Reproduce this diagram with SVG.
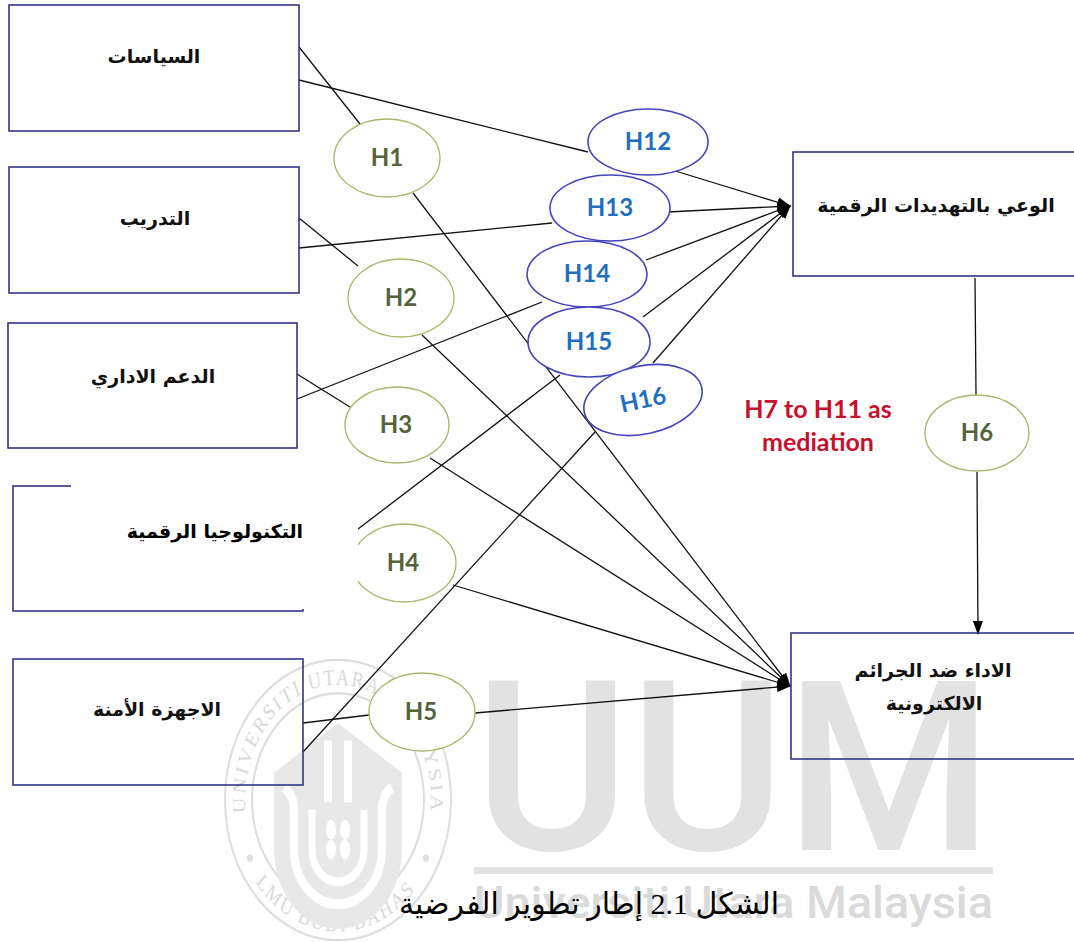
<svg xmlns="http://www.w3.org/2000/svg" width="1074" height="942" viewBox="0 0 1074 942">
<style>
  .box { fill: none; stroke: #34348a; stroke-width: 1.6; }
  .lbl { font-family: "DejaVu Sans", sans-serif; font-weight: bold; font-size: 19px; fill: #111; text-anchor: middle; }
  .hg { fill: #fff; stroke: #aab46a; stroke-width: 1.3; }
  .hb { fill: #fff; stroke: #4444bb; stroke-width: 1.6; }
  .tg { font-family: Lato, "Open Sans", sans-serif; font-weight: bold; font-size: 24px; fill: #56633a; text-anchor: middle; }
  .tb { font-family: Lato, "Open Sans", sans-serif; font-weight: bold; font-size: 24px; fill: #1f6fbf; text-anchor: middle; }
  .ln { stroke: #111; stroke-width: 1.3; fill: none; }
  .wm { fill: #e2e2e2; }
  .ring { fill: none; stroke: #dedede; stroke-width: 2; }
  .rt { font-family: "Liberation Serif", serif; font-size: 18px; fill: #d9d9d9; letter-spacing: 2px; }
</style>
<defs>
  <marker id="arr" markerWidth="14" markerHeight="10" refX="13" refY="5" orient="auto" markerUnits="userSpaceOnUse">
    <path d="M0,0 L14,5 L0,10 z" fill="#000"/>
  </marker>
  <path id="topArc" d="M -65.8,65.8 A 93,93 0 1 1 65.8,65.8"/>
  <path id="botArc" d="M -81.2,68.1 A 106,106 0 0 0 81.2,68.1"/>
</defs>
<rect width="1074" height="942" fill="#fff"/>

<!-- watermark -->
<g id="watermark">
  <g transform="translate(338,800) scale(1,1.24)">
    <circle class="ring" r="113"/>
    <circle class="ring" r="86" stroke-width="1.5"/>
    <text class="rt"><textPath href="#topArc" startOffset="50%" text-anchor="middle">UNIVERSITI UTARA MALAYSIA</textPath></text>
    <text class="rt"><textPath href="#botArc" startOffset="50%" text-anchor="middle">ILMU BUDI BAHASA</textPath></text>
    <circle cx="-88" cy="47" r="3" fill="#dedede"/>
    <circle cx="88" cy="47" r="3" fill="#dedede"/>
    <path d="M -64,-22 L 0,-62 L 64,-22 L 64,40 A 64,64 0 0 1 -64,40 Z" fill="#e8e8e8"/>
    <path d="M -54,-10 Q -44,-4 -44,8 L -44,40 A 44,44 0 0 0 44,40 L 44,8 Q 44,-4 54,-10" fill="none" stroke="#fff" stroke-width="8"/>
    <path d="M -26,8 L -26,40 A 26,26 0 0 0 26,40 L 26,8" fill="none" stroke="#fff" stroke-width="7"/>
    <rect x="-14" y="-48" width="8" height="50" fill="#fff"/>
    <rect x="6" y="-48" width="8" height="50" fill="#fff"/>
    <ellipse cx="-7" cy="24" rx="5" ry="8" fill="#fff"/>
    <ellipse cx="7" cy="24" rx="5" ry="8" fill="#fff"/>
    <ellipse cx="-7" cy="40" rx="5" ry="8" fill="#fff"/>
    <ellipse cx="7" cy="40" rx="5" ry="8" fill="#fff"/>
  </g>
  <text x="474" y="850" class="wm" font-family="Roboto, sans-serif" font-weight="500" font-size="238" textLength="519" lengthAdjust="spacingAndGlyphs">UUM</text>
  <rect x="474" y="867" width="519" height="7" class="wm"/>
  <text x="474" y="918" fill="#dadada" font-family="Roboto, sans-serif" font-weight="500" font-size="44" textLength="519" lengthAdjust="spacingAndGlyphs">Universiti Utara Malaysia</text>
</g>

<!-- connectors -->
<g id="connectors">
  <line class="ln" x1="299" y1="47" x2="360" y2="124"/>
  <line class="ln" x1="299" y1="80" x2="588" y2="152"/>
  <line class="ln" x1="299" y1="218" x2="358" y2="266"/>
  <line class="ln" x1="299" y1="248" x2="552" y2="223"/>
  <line class="ln" x1="297" y1="374" x2="350" y2="407"/>
  <line class="ln" x1="297" y1="399" x2="542" y2="302"/>
  <line class="ln" x1="358" y1="529" x2="560" y2="375"/>
  <line class="ln" x1="303" y1="723" x2="369" y2="715"/>
  <line class="ln" x1="303" y1="752" x2="595" y2="432"/>
  <line class="ln" x1="672" y1="170" x2="790" y2="206" marker-end="url(#arr)"/>
  <line class="ln" x1="667" y1="212" x2="790" y2="206" marker-end="url(#arr)"/>
  <line class="ln" x1="646" y1="260" x2="790" y2="206" marker-end="url(#arr)"/>
  <line class="ln" x1="643" y1="317" x2="790" y2="206" marker-end="url(#arr)"/>
  <line class="ln" x1="653" y1="363" x2="790" y2="206" marker-end="url(#arr)"/>
  <line class="ln" x1="413" y1="193" x2="790" y2="686" marker-end="url(#arr)"/>
  <line class="ln" x1="422" y1="335" x2="790" y2="686" marker-end="url(#arr)"/>
  <line class="ln" x1="430" y1="458" x2="790" y2="686" marker-end="url(#arr)"/>
  <line class="ln" x1="453" y1="585" x2="790" y2="686" marker-end="url(#arr)"/>
  <line class="ln" x1="475" y1="713" x2="790" y2="686" marker-end="url(#arr)"/>
  <line class="ln" x1="975" y1="278" x2="976" y2="395"/>
  <line class="ln" x1="977" y1="472" x2="978" y2="634" marker-end="url(#arr)"/>
</g>

<!-- source nodes -->
<g id="n-policies"><rect class="box" x="9" y="5" width="290" height="126"/><text class="lbl" x="154" y="63">السياسات</text></g>
<g id="n-training"><rect class="box" x="9" y="167" width="290" height="126"/><text class="lbl" x="155" y="225">التدريب</text></g>
<g id="n-admin"><rect class="box" x="8" y="323" width="289" height="125"/><text class="lbl" x="153" y="383">الدعم الاداري</text></g>
<g id="n-security"><rect class="box" x="13" y="659" width="290" height="126"/><text class="lbl" x="157" y="716">الاجهزة الأمنة</text></g>

<!-- target nodes -->
<g id="n-awareness"><rect class="box" x="793" y="152" width="290" height="124"/><text class="lbl" x="936" y="212">الوعي بالتهديدات الرقمية</text></g>
<g id="n-performance"><rect class="box" x="791" y="633" width="292" height="126"/><text class="lbl" x="933" y="677">الاداء ضد الجرائم</text><text class="lbl" x="934" y="710">الالكترونية</text></g>

<!-- hypotheses -->
<g id="h1"><ellipse class="hg" cx="387" cy="158" rx="53" ry="39"/><text class="tg" x="387" y="166">H1</text></g>
<g id="h2"><ellipse class="hg" cx="401" cy="298" rx="53" ry="39"/><text class="tg" x="401" y="306">H2</text></g>
<g id="h3"><ellipse class="hg" cx="397" cy="425" rx="52" ry="38"/><text class="tg" x="396" y="433">H3</text></g>
<g id="h4"><ellipse class="hg" cx="404" cy="563" rx="52" ry="39"/><text class="tg" x="403" y="571">H4</text></g>
<g id="h5"><ellipse class="hg" cx="422" cy="712" rx="53" ry="39"/><text class="tg" x="421" y="720">H5</text></g>
<g id="h6"><ellipse class="hg" cx="977" cy="433" rx="52" ry="38"/><text class="tg" x="977" y="441">H6</text></g>
<g id="h12"><ellipse class="hb" cx="648" cy="142" rx="60" ry="33"/><text class="tb" x="648" y="150">H12</text></g>
<g id="h13"><ellipse class="hb" cx="610" cy="208" rx="60" ry="33"/><text class="tb" x="610" y="216">H13</text></g>
<g id="h14"><ellipse class="hb" cx="587" cy="274" rx="60" ry="33"/><text class="tb" x="587" y="282">H14</text></g>
<g id="h15"><ellipse class="hb" cx="589" cy="342" rx="61" ry="35"/><text class="tb" x="589" y="350">H15</text></g>
<g id="h16" transform="rotate(-12 643 400)"><ellipse class="hb" cx="643" cy="400" rx="60" ry="34"/><text class="tb" x="643" y="408">H16</text></g>

<!-- digital technology node (partly covered by a white patch) -->
<g id="n-digital">
  <rect class="box" x="13" y="486" width="290" height="125"/>
  <rect x="71" y="483" width="287" height="126" fill="#fff"/>
  <text x="215" y="538" font-family="'DejaVu Sans', sans-serif" font-weight="bold" font-size="19" fill="#000" text-anchor="middle">التكنولوجيا الرقمية</text>
</g>

<g id="mediation-note">
  <text x="818" y="418" font-family="Lato, sans-serif" font-weight="bold" font-size="25" fill="#c8102e" text-anchor="middle">H7 to H11 as</text>
  <text x="818" y="451" font-family="Lato, sans-serif" font-weight="bold" font-size="25" fill="#c8102e" text-anchor="middle">mediation</text>
</g>

<text id="caption" x="589" y="914" direction="rtl" font-family="'Liberation Serif', 'DejaVu Sans', serif" font-size="30" fill="#000" text-anchor="middle">الشكل 2.1 إطار تطوير الفرضية</text>
</svg>
